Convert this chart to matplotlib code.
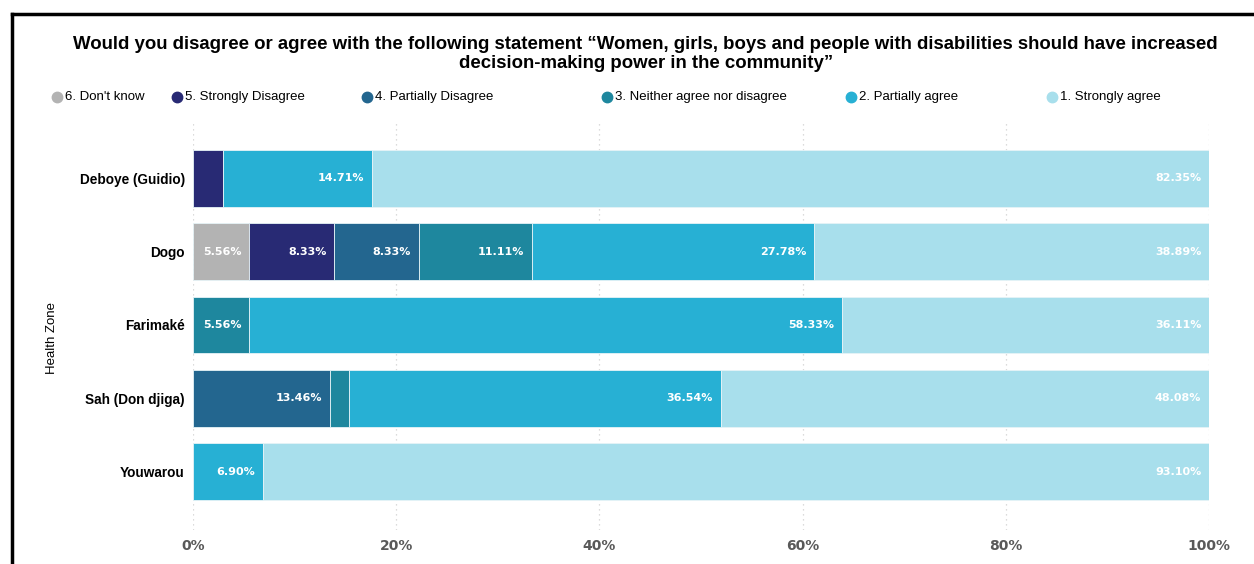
import matplotlib
matplotlib.use("Agg")
import matplotlib.pyplot as plt
from matplotlib.lines import Line2D
import numpy as np

zones = ["Deboye (Guidio)", "Dogo", "Farimaké", "Sah (Don djiga)", "Youwarou"]

categories = ["6. Don't know", "5. Strongly Disagree", "4. Partially Disagree",
              "3. Neither agree nor disagree", "2. Partially agree", "1. Strongly agree"]
colors = ["#b3b3b3", "#282a74", "#23668f", "#1e879e", "#27b0d4", "#a8dfec"]

dont_know = [0.00, 5.56, 0.00, 0.00, 0.00]
strongly_disagree = [2.94, 8.33, 0.00, 0.00, 0.00]
partially_disagree = [0.00, 8.33, 0.00, 13.46, 0.00]
neither = [0.00, 11.11, 5.56, 1.92, 0.00]
partially_agree = [14.71, 27.78, 58.33, 36.54, 6.90]
strongly_agree = [82.35, 38.89, 36.11, 48.08, 93.10]

series = [dont_know, strongly_disagree, partially_disagree, neither,
          partially_agree, strongly_agree]

xticks = [0, 20, 40, 60, 80, 100]
xtick_labels = ["0%", "20%", "40%", "60%", "80%", "100%"]

W, H = 1254, 564
fig = plt.figure(figsize=(W / 100, H / 100), dpi=100)
ax = fig.add_axes([193 / W, 1 - 530 / H, (1209 - 193) / W, (530 - 120) / H])

y = np.arange(len(zones))
left = np.zeros(len(zones))
for vals, col in zip(series, colors):
    vals = np.array(vals)
    ax.barh(y, vals, left=left, height=0.775, color=col,
            edgecolor="#e6f3f7", linewidth=0.6, zorder=2)
    for yi, v, l in zip(y, vals, left):
        if v >= 5:
            ax.annotate(f"{v:.2f}%", xy=(l + v, yi), xytext=(-5.5, 0),
                        textcoords="offset points", ha="right", va="center",
                        color="white", fontsize=8, fontweight="bold",
                        family="DejaVu Sans", zorder=3)
    left += vals

ax.set_xlim(0, 100)
ax.set_ylim(len(zones) - 1 + 0.795, -0.795)
ax.set_yticks(y)
ax.set_yticklabels(zones, fontsize=9.8, fontweight="bold",
                   family="Liberation Sans")
ax.set_xticks(xticks)
ax.set_xticklabels(xtick_labels, fontsize=10, fontweight="bold",
                   color="#595959", family="DejaVu Sans")
ax.tick_params(axis="both", length=0)
ax.tick_params(axis="x", pad=6.5)
ax.tick_params(axis="y", pad=6)
ax.grid(axis="x", color="#d0d0d0", linestyle=(0, (1, 3)), linewidth=0.9, zorder=0)
for s in ax.spines.values():
    s.set_visible(False)

ax.set_ylabel("Health Zone", fontsize=9.5, family="Liberation Sans", labelpad=0)
ax.yaxis.set_label_coords((58 - 193) / (1209 - 193), (530 - 338) / 410)

fig.text(0.515, 1 - 54 / H,
         "Would you disagree or agree with the following statement \u201cWomen, girls, boys and people with disabilities should have increased\n"
         "decision-making power in the community\u201d",
         ha="center", va="center", fontsize=13.4, fontweight="bold",
         family="Liberation Sans", linespacing=1.18)

# legend row
leg_x = [57, 177, 367, 607, 851, 1052]
leg_y = 1 - 97 / H
for lx, lab, col in zip(leg_x, categories, colors):
    fig.add_artist(Line2D([lx / W], [leg_y], marker="o", markersize=7.5,
                          color=col, linestyle="none", transform=fig.transFigure))
    fig.text((lx + 8) / W, leg_y, lab, ha="left", va="center",
             fontsize=9.5, family="Liberation Sans")

# outer frame
fig.add_artist(Line2D([12 / W, 12 / W], [0, 1 - 14 / H], color="black",
                      linewidth=2.5, transform=fig.transFigure))
fig.add_artist(Line2D([12 / W, 1], [1 - 14 / H, 1 - 14 / H], color="black",
                      linewidth=2.5, transform=fig.transFigure))

fig.savefig("out.png", dpi=100, facecolor="white")
